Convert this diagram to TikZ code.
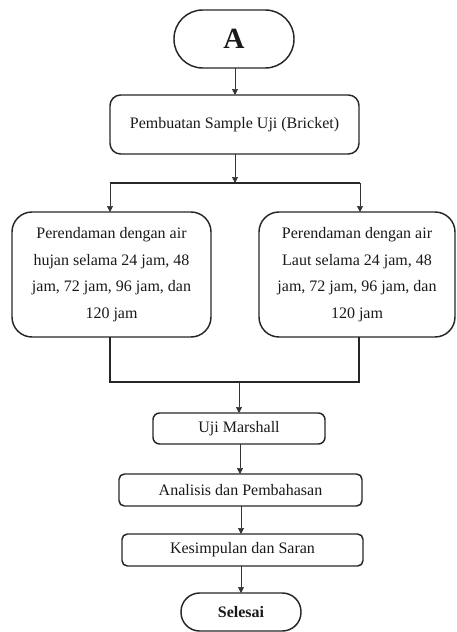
\documentclass[tikz,border=0pt]{standalone}
\usepackage{fontspec}
\setmainfont{Liberation Serif}
\usetikzlibrary{arrows.meta}
\begin{document}
\begin{tikzpicture}[x=0.75pt,y=-0.75pt,
  box/.style={draw=black!85, line width=1.1pt, inner sep=0pt, outer sep=0pt,
    align=center, font=\fontsize{12}{20}\selectfont, text=black!90},
  arr/.style={draw=black!80, line width=0.55pt, -{Triangle[width=4.5pt,length=4.5pt]}},
  bar/.style={draw=black!85, line width=1pt},
  ]
\useasboundingbox (0,0) rectangle (457,632);

\node[box, minimum width=90pt, minimum height=43.5pt, rounded corners=21.5pt,
  font=\fontsize{22}{24}\selectfont\bfseries] (A) at (234,39) {A};
\node[box, minimum width=186.75pt, minimum height=44.25pt, rounded corners=8pt] (b1) at (234.5,124.5) {Pembuatan Sample Uji (Bricket)};
\node[box, minimum width=149.25pt, minimum height=93.75pt, rounded corners=15pt] (L) at (111.5,274.5)
  {Perendaman dengan air\\hujan selama 24 jam, 48\\jam, 72 jam, 96 jam, dan\\120 jam};
\node[box, minimum width=147pt, minimum height=93.75pt, rounded corners=15pt] (R) at (357,274.5)
  {Perendaman dengan air\\Laut selama 24 jam, 48\\jam, 72 jam, 96 jam, dan\\120 jam};
\node[box, minimum width=129pt, minimum height=23.25pt, rounded corners=5pt] (U) at (239,428.5) {Uji Marshall};
\node[box, minimum width=182.25pt, minimum height=24pt, rounded corners=4pt] (An) at (240.5,490) {Analisis dan Pembahasan};
\node[box, minimum width=180.75pt, minimum height=24pt, rounded corners=4pt] (K) at (242.5,550) {Kesimpulan dan Saran};
\node[box, minimum width=90pt, minimum height=28.5pt, rounded corners=14pt,
  font=\fontsize{12}{14}\selectfont\bfseries] (S) at (241,612) {Selesai};

\coordinate (sp) at (235,183);
\coordinate (sL) at (110,183);
\coordinate (sR) at (360,183);
\coordinate (mL) at (110,382);
\coordinate (mR) at (359,382);
\coordinate (m) at (239,382);
\coordinate (c1) at (240,0);
\coordinate (c2) at (241,0);

\draw[arr] (A.south -| sp) -- (b1.north -| sp);
\draw[arr] (b1.south -| sp) -- (sp);
\draw[bar] (sL) -- (sR);
\draw[arr] (sL) -- (L.north -| sL);
\draw[arr] (sR) -- (R.north -| sR);
\draw[bar] (L.south -| mL) -- (mL) -- (mR) -- (R.south -| mR);
\draw[arr] (m) -- (U.north -| m);
\draw[arr] (U.south -| c1) -- (An.north -| c1);
\draw[arr] (An.south -| c2) -- (K.north -| c2);
\draw[arr] (K.south -| c2) -- (S.north -| c2);
\end{tikzpicture}
\end{document}
